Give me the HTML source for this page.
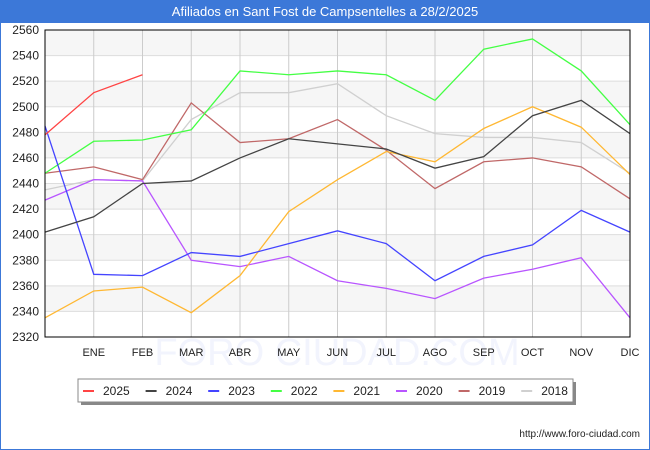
<!DOCTYPE html>
<html><head><meta charset="utf-8"><style>
body{margin:0;width:650px;height:450px;overflow:hidden;background:#fff;font-family:"Liberation Sans","DejaVu Sans",sans-serif}
#frame{position:absolute;left:0;top:0;width:648px;height:448px;border:1px solid #3c78d8}
#title{position:absolute;left:0;top:0;width:650px;height:23px;background:#3c78d8;color:#fff;font-size:13px;line-height:23px;text-align:center}
</style></head><body>
<div id="frame"></div>
<div id="title">Afiliados en Sant Fost de Campsentelles a 28/2/2025</div>
<svg id="chart" width="650" height="450" style="position:absolute;left:0;top:0"></svg>
<script>
const months=["","ENE","FEB","MAR","ABR","MAY","JUN","JUL","AGO","SEP","OCT","NOV","DIC"];
const yTicks=[2320,2340,2360,2380,2400,2420,2440,2460,2480,2500,2520,2540,2560];
const years=["2025","2024","2023","2022","2021","2020","2019","2018"];
const colors=["#ff4444","#444444","#4444ff","#44ff44","#ffb833","#b855ff","#c06868","#d0d0d0"];
const s2025=[2478,2511,2525];
const s2024=[2402,2414,2440,2442,2460,2475,2471,2467,2452,2461,2493,2505,2479];
const s2023=[2485,2369,2368,2386,2383,2393,2403,2393,2364,2383,2392,2419,2402];
const s2022=[2448,2473,2474,2482,2528,2525,2528,2525,2505,2545,2553,2528,2486];
const s2021=[2335,2356,2359,2339,2368,2418,2443,2465,2457,2483,2500,2484,2447];
const s2020=[2427,2443,2442,2380,2375,2383,2364,2358,2350,2366,2373,2382,2335];
const s2019=[2448,2453,2443,2503,2472,2475,2490,2466,2436,2457,2460,2453,2428];
const s2018=[2435,2443,2442,2490,2511,2511,2518,2493,2479,2476,2476,2472,2448];
const series=[s2025,s2024,s2023,s2022,s2021,s2020,s2019,s2018];
const L=45,R=630,T=30,B=337,ymin=2320,ymax=2560;
const x=i=>L+(R-L)*i/12, y=v=>B-(v-ymin)/(ymax-ymin)*(B-T);
const svg=document.getElementById('chart'),NS="http://www.w3.org/2000/svg";
function mk(t,a,p){const e=document.createElementNS(NS,t);for(const k in a)e.setAttribute(k,a[k]);(p||svg).appendChild(e);return e;}
for(let i=0;i<yTicks.length-1;i++){if(i%2==1){const r=mk('rect',{x:L,y:y(yTicks[i+1]),width:R-L,height:y(yTicks[i])-y(yTicks[i+1]),fill:'#f6f6f6'});}}
const wm=mk('text',{x:337,y:365,'text-anchor':'middle','font-size':'38',fill:'#f2f4fd'});wm.textContent='FORO CIUDAD.COM';
yTicks.forEach(v=>{const g=mk('line',{x1:L,x2:R,y1:y(v),y2:y(v),stroke:'#dddddd'});
const t=mk('text',{x:L-6,y:y(v)+4,'text-anchor':'end','font-size':'12',fill:'#222'});t.textContent=v;});
months.forEach((m,i)=>{if(i>0){const g=mk('line',{x1:x(i),x2:x(i),y1:T,y2:B,stroke:'#cccccc'});
const t=mk('text',{x:x(i),y:356,'text-anchor':'middle','font-size':'11',fill:'#222'});t.textContent=m;}});
for(let s=series.length-1;s>=0;s--){const d=series[s].map((v,i)=>(i?'L':'M')+x(i)+','+y(v)).join('');const p=mk('path',{d:d,fill:'none',stroke:colors[s],'stroke-width':'1.3'});}
const ax=mk('rect',{x:L,y:T,width:R-L,height:B-T,fill:'none',stroke:'#000','stroke-width':'1'});
const lg=mk('g',{});
mk('rect',{x:81,y:382,width:495,height:23,fill:'#888'},lg);
mk('rect',{x:78,y:379,width:495,height:23,fill:'#fff',stroke:'#888'},lg);
years.forEach((yr,i)=>{const bx=83+i*62.6;const e=mk('g',{},lg);
mk('line',{x1:bx,x2:bx+11,y1:391,y2:391,stroke:colors[i],'stroke-width':'2'},e);
const t=mk('text',{x:bx+20,y:395,'font-size':'12',fill:'#222'},e);t.textContent=yr;});
const u=mk('text',{x:640,y:437,'text-anchor':'end','font-size':'10',fill:'#222'});u.textContent='http://www.foro-ciudad.com';
</script>
</body></html>
